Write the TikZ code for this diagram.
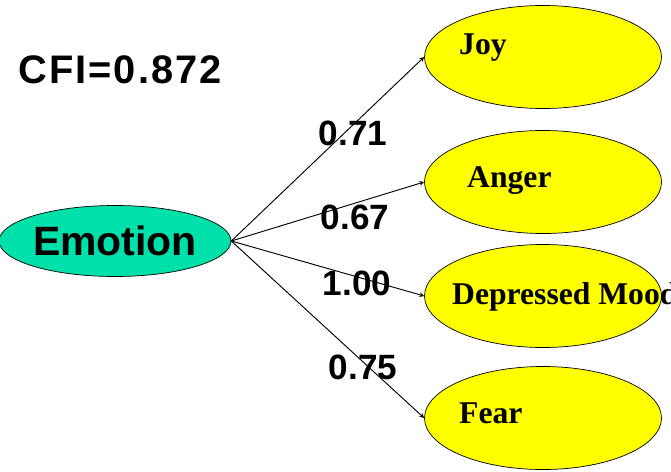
\documentclass[tikz,border=0pt]{standalone}
\usepackage{fontspec}
\setmainfont{Liberation Serif}
\newfontfamily\numfont{Liberation Sans}
\newfontfamily\cfifont[LetterSpace=5]{Liberation Sans}
\usepackage{tikz}
\usetikzlibrary{shapes,arrows,positioning}
\usepackage{xcolor}
\definecolor{emoFill}{HTML}{00E0AA}
\definecolor{facFill}{HTML}{FFFF00}

\begin{document}
\begin{tikzpicture}[
    latent/.style={draw=black, line width=0.6pt, ellipse, fill=facFill, minimum width=7.11cm, minimum height=3.09cm, inner sep=0pt},
    facname/.style={anchor=west, inner sep=0pt, font=\fontsize{27}{30}\selectfont\bfseries},
    loading/.style={inner sep=0pt, font=\numfont\fontsize{30}{34}\selectfont\bfseries},
    path/.style={-stealth, line width=0.8pt}]
    \clip (0,0) rectangle (20.13,14.13);
    % Fit index
    \node[inner sep=0pt, font=\cfifont\fontsize{34}{38}\selectfont\bfseries] at (3.6,12.03) (cfi) {CFI=0.872};
    
    % Second-order factor
    \node[draw=black, line width=0.6pt, ellipse, fill=emoFill, minimum width=6.9cm, minimum height=2.13cm, inner sep=0pt, font=\numfont\fontsize{35}{38}\selectfont\bfseries] at (3.45,6.90) (emotion) {Emotion};
    
    % First-order factors
    \node[latent] at (16.29,12.42) (joy) {};
    \node[latent] at (16.29,8.67) (anger) {};
    \node[latent] at (16.29,5.25) (depressed) {};
    \node[latent] at (16.29,1.59) (fear) {};
    \node[facname] at (13.77,12.69) (joytext) {Joy};
    \node[facname] at (14.01,8.70) (angertext) {Anger};
    \node[facname] at (13.56,5.22) (depressedtext) {Depressed Mood};
    \node[facname] at (13.77,1.74) (feartext) {Fear};
    
    % Arrows
    \draw[path] (emotion.east) -- (joy.west);
    \draw[path] (emotion.east) -- (anger.west);
    \draw[path] (emotion.east) -- (depressed.west);
    \draw[path] (emotion.east) -- (fear.west);
    
    % Loadings
    \node[loading] at (10.59,10.14) (l1) {0.71};
    \node[loading] at (10.65,7.62) (l2) {0.67};
    \node[loading] at (10.71,5.64) (l3) {1.00};
    \node[loading] at (10.89,3.12) (l4) {0.75};
\end{tikzpicture}
\end{document}
